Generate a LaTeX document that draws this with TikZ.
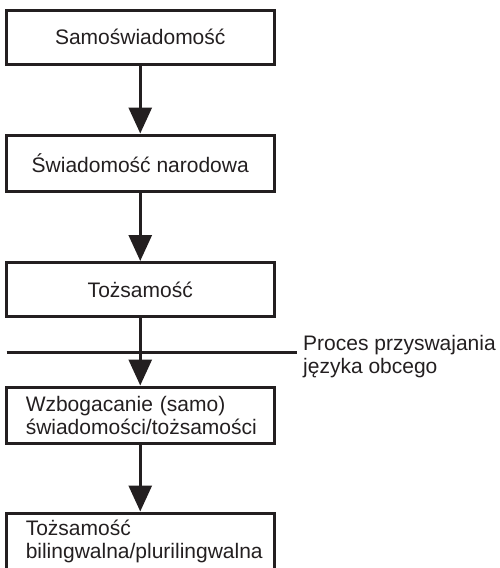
\documentclass[tikz,border=0pt]{standalone}
\usepackage{fontspec}
\setmainfont{Liberation Sans}
\usetikzlibrary{arrows.meta}
\definecolor{ink}{HTML}{231F20}
\begin{document}
\begin{tikzpicture}[x=1pt,y=-1pt,
  box/.style={draw=ink, line width=3pt, rectangle, minimum width=267.5pt, inner sep=0pt,
    font=\fontsize{21}{23}\selectfont, text=ink},
  lbox/.style={box, text width=229pt, align=left,
    execute at begin node={\hyphenpenalty=10000\exhyphenpenalty=10000}},
  arr/.style={draw=ink, line width=3pt, -{Triangle[width=23pt,length=26pt]}},
  rule/.style={draw=ink, line width=3pt},
  lbl/.style={inner sep=0pt, align=left, font=\fontsize{21}{23}\selectfont, text=ink}
]
\useasboundingbox (0,0) rectangle (499,568);
\clip (0,0) rectangle (499,568);
\node[box, minimum height=54.5pt] (b1) at (140.25,37.25) {Samoświadomość};
\node[box, minimum height=56pt] (b2) at (140.25,163) {Świadomość narodowa};
\node[box, minimum height=54pt] (b3) at (140.25,289.5) {Tożsamość};
\node[lbox, minimum height=56pt] (b4) at (140.25,415) {Wzbogacanie (samo)\\świadomości/tożsamości};
\node[lbox, minimum height=57pt] (b5) at (140.25,541.5) {Tożsamość\\bilingwalna/plurilingwalna};
\coordinate (h1) at (6.5,352);
\coordinate (h2) at (297,352);
\draw[rule] (h1) -- (h2);
\node[lbl, anchor=north west] (proc) at (303,335) {Proces przyswajania\\języka obcego};
\draw[arr] (b1) -- (b2);
\draw[arr] (b2) -- (b3);
\draw[arr] (b3) -- (b4);
\draw[arr] (b4) -- (b5);
\end{tikzpicture}
\end{document}
